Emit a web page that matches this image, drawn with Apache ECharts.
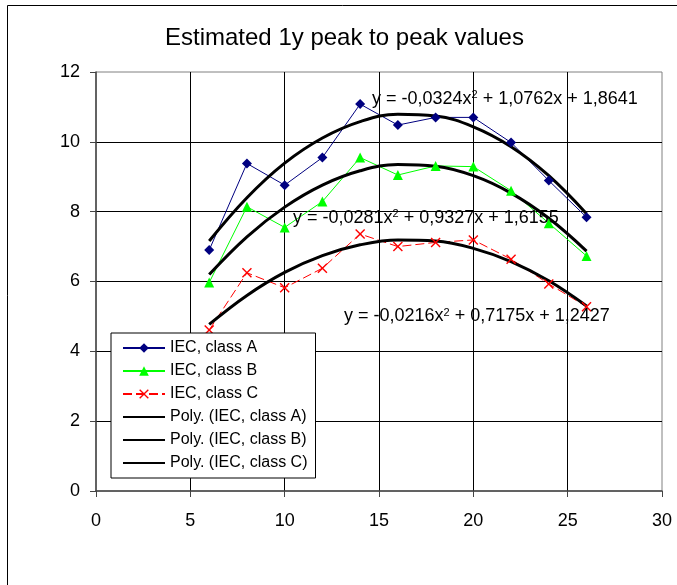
<!DOCTYPE html>
<html><head><meta charset="utf-8">
<script src="https://cdn.jsdelivr.net/npm/echarts@6/dist/echarts.min.js"></script>
<style>html,body{margin:0;padding:0;background:#fff}#c{width:677px;height:585px}</style>
</head><body><div id="c"></div>
<script>
const titleText = 'Estimated 1y peak to peak values';
const xValues = [6, 8, 10, 12, 14, 16, 18, 20, 22, 24, 26];
const classA = [6.90, 9.38, 8.76, 9.55, 11.08, 10.48, 10.70, 10.70, 9.98, 8.89, 7.84];
const classB = [5.97, 8.14, 7.55, 8.29, 9.55, 9.05, 9.31, 9.29, 8.60, 7.67, 6.73];
const classC = [4.61, 6.25, 5.82, 6.38, 7.36, 7.00, 7.12, 7.19, 6.64, 5.93, 5.28];
const polyA = [7.16, 8.40, 9.39, 10.11, 10.58, 10.79, 10.74, 10.43, 9.86, 9.03, 7.94];
const polyB = [6.20, 7.28, 8.13, 8.76, 9.17, 9.35, 9.30, 9.03, 8.53, 7.81, 6.87];
const polyC = [4.77, 5.60, 6.26, 6.74, 7.05, 7.19, 7.16, 6.95, 6.57, 6.02, 5.30];
const seriesNames = ['IEC, class A', 'IEC, class B', 'IEC, class C',
  'Poly. (IEC, class A)', 'Poly. (IEC, class B)', 'Poly. (IEC, class C)'];
const equationsPre = ['y = -0,0324x', 'y = -0,0281x', 'y = -0,0216x'];
const equationsPost = [' + 1,0762x + 1,8641', ' + 0,9327x + 1,6155', ' + 0,7175x + 1,2427'];

const FONT = 'Liberation Sans, Arial, sans-serif';
const pairs = ys => xValues.map((x, i) => [x, ys[i]]);
const crossPath = 'path://M0,1L1,0L5,4L9,0L10,1L6,5L10,9L9,10L5,6L1,10L0,9L4,5Z';

function eqText(i, x, y) {
  return {
    type: 'text', x: x, y: y, z: 10,
    style: {
      text: '{n|' + equationsPre[i] + '}{s|2}{n|' + equationsPost[i] + '}',
      verticalAlign: 'middle',
      rich: {
        n: { fontSize: 18, fontFamily: FONT, fill: '#000', lineHeight: 19 },
        s: { fontSize: 11, fontFamily: FONT, fill: '#000', lineHeight: 11, verticalAlign: 'top' }
      }
    }
  };
}

const chart = echarts.init(document.getElementById('c'));
chart.setOption({
  animation: false,
  backgroundColor: '#fff',
  title: {
    text: titleText, left: 165, top: 26, padding: 0,
    textStyle: { fontFamily: FONT, fontSize: 24, fontWeight: 'normal', color: '#000' }
  },
  legend: {
    orient: 'vertical', left: 111, top: 333,
    itemWidth: 42, itemHeight: 12, itemGap: 7,
    padding: [7, 8, 7, 11],
    backgroundColor: '#fff', borderColor: '#000', borderWidth: 1, borderRadius: 0,
    textStyle: { fontFamily: FONT, fontSize: 16, color: '#000', lineHeight: 16 },
    data: seriesNames
  },
  grid: {
    left: 96, top: 72, right: 15, bottom: 94,
    show: true, borderColor: '#808080', borderWidth: 1, backgroundColor: '#fff'
  },
  xAxis: {
    type: 'value', min: 0, max: 30, interval: 5,
    axisLine: { show: true, onZero: false, lineStyle: { color: '#444', width: 1.5 } },
    axisTick: { show: true, inside: false, length: 6, lineStyle: { color: '#444' } },
    axisLabel: { margin: 21, fontFamily: FONT, fontSize: 18, color: '#000' },
    splitLine: { show: true, showMinLine: false, showMaxLine: false, lineStyle: { color: '#000', width: 1 } }
  },
  yAxis: {
    type: 'value', min: 0, max: 12, interval: 2,
    axisLine: { show: true, onZero: false, lineStyle: { color: '#444', width: 1.5 } },
    axisTick: { show: true, inside: false, length: 6, lineStyle: { color: '#444' } },
    axisLabel: { margin: 16, fontFamily: FONT, fontSize: 18, color: '#000' },
    splitLine: { show: true, showMinLine: false, showMaxLine: false, lineStyle: { color: '#000', width: 1 } }
  },
  graphic: [
    { type: 'rect', shape: { x: 7.5, y: 5.5, width: 700, height: 700 }, style: { fill: 'none', stroke: '#000', lineWidth: 1 }, z: 0, silent: true },
    eqText(0, 372, 99),
    eqText(1, 293, 218),
    eqText(2, 344, 316.5)
  ],
  series: [
    { name: seriesNames[0], type: 'line', data: pairs(classA), symbol: 'diamond', symbolSize: 10,
      lineStyle: { color: '#000080', width: 1 }, itemStyle: { color: '#000080' } },
    { name: seriesNames[1], type: 'line', data: pairs(classB), symbol: 'triangle', symbolSize: 10,
      lineStyle: { color: '#00ff00', width: 1 }, itemStyle: { color: '#00ff00' } },
    { name: seriesNames[2], type: 'line', data: pairs(classC), symbol: crossPath, symbolSize: 10,
      lineStyle: { color: '#ff0000', width: 1, type: [9, 4] }, itemStyle: { color: '#ff0000' } },
    { name: seriesNames[3], type: 'line', data: pairs(polyA), smooth: 0.4, symbol: 'none',
      lineStyle: { color: '#000', width: 3 }, itemStyle: { color: 'rgba(0,0,0,0)' } },
    { name: seriesNames[4], type: 'line', data: pairs(polyB), smooth: 0.4, symbol: 'none',
      lineStyle: { color: '#000', width: 3 }, itemStyle: { color: 'rgba(0,0,0,0)' } },
    { name: seriesNames[5], type: 'line', data: pairs(polyC), smooth: 0.4, symbol: 'none',
      lineStyle: { color: '#000', width: 3 }, itemStyle: { color: 'rgba(0,0,0,0)' } }
  ]
});
</script>
</body></html>
